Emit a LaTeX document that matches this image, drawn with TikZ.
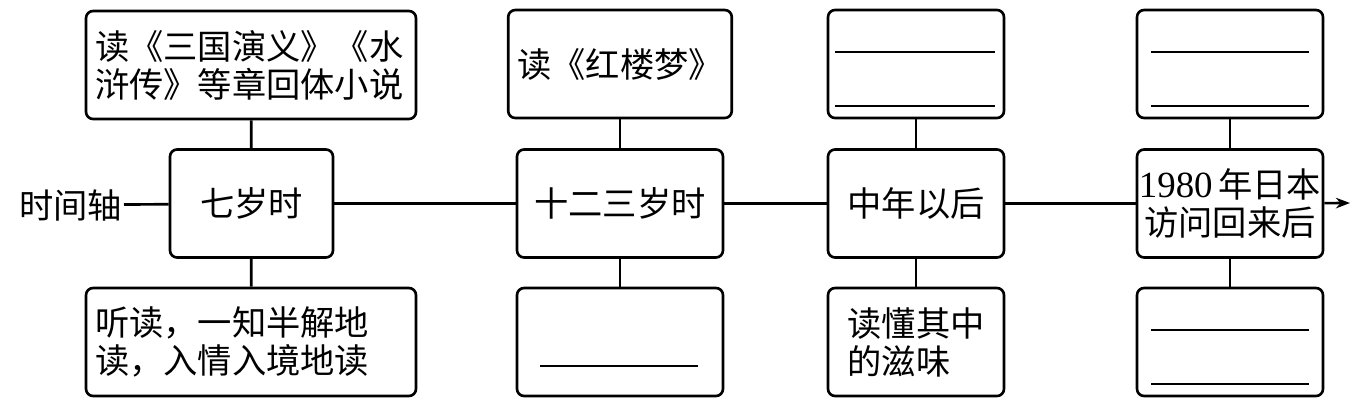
\documentclass[tikz,border=0pt]{standalone}
\usepackage{fontspec}
\setmainfont{Noto Sans CJK SC}
\newfontfamily\lat{Liberation Serif}
\usetikzlibrary{arrows.meta}

\newcommand{\bigcjk}{\fontsize{19.5pt}{21.6pt}\selectfont}

\tikzset{
  box/.style={draw, rounded corners=4pt, line width=1.5pt, minimum height=2.16cm,
              inner sep=0.18cm, font=\bigcjk},
  link/.style={line width=1.5pt},
  blank/.style={line width=1pt},
}

\begin{document}
\begin{tikzpicture}[x=0.02cm, y=-0.02cm]
            \useasboundingbox (0,0) rectangle (1371,407);

            % seven years old
            \node[box, text width=6.24cm, align=left] (top1) at (251,65) {读《三国演义》《水\\浒传》等章回体小说};
            \node[box, minimum width=3.26cm, align=center] (mid1) at (251.5,203.5) {七岁时};
            \node[box, text width=6.24cm, align=left] (bot1) at (251,342) {听读，一知半解地\\读，入情入境地读};

            % twelve or thirteen
            \node[box, minimum width=4.12cm, align=center] (top2) at (620,64) {读《红楼梦》};
            \node[box, minimum width=4.12cm, align=center] (mid2) at (620,203.5) {十二三岁时};
            \node[box, minimum width=4.12cm] (bot2) at (620,342) {};

            % middle age
            \node[box, minimum width=3.52cm] (top3) at (916,64) {};
            \node[box, minimum width=3.52cm, align=center] (mid3) at (916,203.5) {中年以后};
            \node[box, minimum width=3.52cm, align=left] (bot3) at (916,342) {读懂其中\\的滋味};

            % after 1980
            \node[box, minimum width=3.72cm] (top4) at (1230,64) {};
            \node[box, minimum width=3.72cm, inner xsep=1pt, align=center] (mid4) at (1230,203.5) {{\lat\fontsize{21pt}{21.6pt}\selectfont 1980}\,年日本\\访问回来后};
            \node[box, minimum width=3.72cm] (bot4) at (1230,342) {};

            \node[font=\bigcjk, anchor=east, inner sep=1pt] (axis) at (124,205) {时间轴};
            \coordinate (end) at (1350,203);

            \draw[link] (axis) -- (mid1);
            \draw[link] (mid1) -- (mid2);
            \draw[link] (mid2) -- (mid3);
            \draw[link] (mid3) -- (mid4);
            \draw[link, -{Stealth[length=8pt, width=6pt]}] (mid4) -- (end);

            \draw[link] (top1) -- (mid1);
            \draw[link] (mid1) -- (bot1);
            \draw[link] (top2) -- (mid2);
            \draw[link] (mid2) -- (bot2);
            \draw[link] (top3) -- (mid3);
            \draw[link] (mid3) -- (bot3);
            \draw[link] (top4) -- (mid4);
            \draw[link] (mid4) -- (bot4);

            % blanks
            \draw[blank] (540,366) -- (698,366);
            \draw[blank] (835,52) -- (995,52);
            \draw[blank] (835,106) -- (995,106);
            \draw[blank] (1151,52) -- (1309,52);
            \draw[blank] (1151,106) -- (1309,106);
            \draw[blank] (1151,330) -- (1309,330);
            \draw[blank] (1151,384) -- (1309,384);
\end{tikzpicture}
\end{document}
